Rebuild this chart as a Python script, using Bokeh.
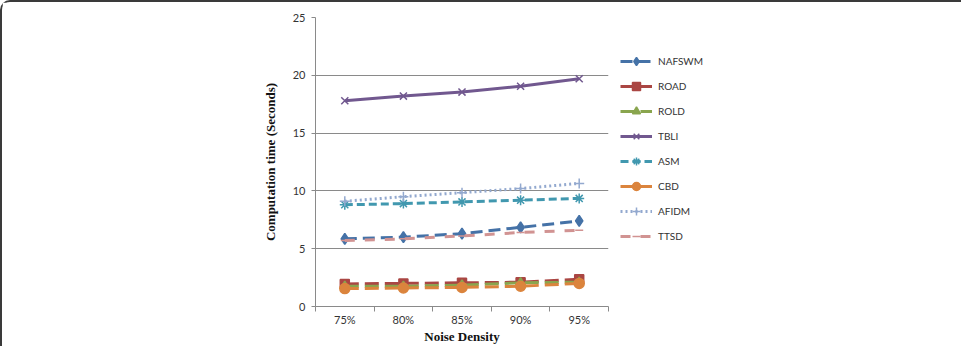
from bokeh.plotting import figure
from bokeh.models import Legend, LegendItem, FixedTicker, Range1d
from bokeh.embed import file_html
from bokeh.resources import INLINE

categories = ["75%", "80%", "85%", "90%", "95%"]
x_pos = [1, 2, 3, 4, 5]

nafswm = [5.85, 6.0, 6.3, 6.85, 7.4]
road = [1.95, 2.0, 2.05, 2.1, 2.35]
rold = [1.75, 1.75, 1.85, 2.05, 2.1]
tbli = [17.8, 18.2, 18.55, 19.05, 19.7]
asm = [8.8, 8.9, 9.05, 9.2, 9.35]
cbd = [1.55, 1.6, 1.65, 1.75, 2.0]
afidm = [9.1, 9.5, 9.85, 10.2, 10.65]
ttsd = [5.7, 5.85, 6.1, 6.4, 6.6]

y_ticks = [0, 5, 10, 15, 20, 25]

series = [
    ("NAFSWM", nafswm, "#4572A7", "12 6", "diamond", 11),
    ("ROAD", road, "#AA4643", "14 6", "square", 9),
    ("ROLD", rold, "#89A54E", "14 6", "triangle", 9),
    ("TBLI", tbli, "#71588F", "solid", "x", 10),
    ("ASM", asm, "#4198AF", "8 4", "asterisk", 10),
    ("CBD", cbd, "#DB843D", "14 6", "circle", 10),
    ("AFIDM", afidm, "#93A9CF", "2 3", "cross", 10),
    ("TTSD", ttsd, "#D19392", "10 10", "dash", 8),
]

p = figure(frame_width=293, frame_height=289, output_backend="svg", toolbar_location=None,
           x_range=Range1d(0.5, 5.5), y_range=Range1d(0, 25),
           min_border_left=313, min_border_right=155, min_border_top=15, min_border_bottom=36)
p.styles = {"border-top": "2px solid #3a3a3a", "border-left": "2px solid #3a3a3a",
            "border-right": "2px solid #3a3a3a", "border-top-left-radius": "10px",
            "border-top-right-radius": "10px"}
p.outline_line_color = None
p.background_fill_color = "white"
p.border_fill_color = "white"

p.xgrid.grid_line_color = None
p.ygrid.grid_line_color = "#8a8a8a"
p.ygrid.grid_line_width = 1
p.yaxis.ticker = FixedTicker(ticks=y_ticks)

p.xaxis.ticker = FixedTicker(ticks=x_pos, minor_ticks=[0.5, 1.5, 2.5, 3.5, 4.5, 5.5])
p.xaxis.major_label_overrides = {x: c for x, c in zip(x_pos, categories)}
p.xaxis.major_tick_line_color = None
p.xaxis.minor_tick_line_color = "#8a8a8a"
p.xaxis.minor_tick_out = 5
p.xaxis.minor_tick_in = 0
p.xaxis.axis_line_color = "#8a8a8a"
p.xaxis.major_label_standoff = 0
p.xaxis.axis_label = "Noise Density"
p.xaxis.axis_label_standoff = 0

p.yaxis.axis_line_color = "#8a8a8a"
p.yaxis.major_tick_line_color = "#8a8a8a"
p.yaxis.major_tick_out = 4
p.yaxis.major_tick_in = 0
p.yaxis.minor_tick_line_color = None
p.yaxis.major_label_standoff = 6
p.yaxis.axis_label = "Computation time (Seconds)"
p.yaxis.axis_label_standoff = 12

for ax in (p.xaxis, p.yaxis):
    ax.major_label_text_font = "Lato"
    ax.major_label_text_font_size = "11px"
    ax.major_label_text_color = "#333333"
    ax.axis_label_text_font = "Liberation Serif"
    ax.axis_label_text_font_style = "bold"
    ax.axis_label_text_font_size = "13px"
    ax.axis_label_text_color = "#111111"

items = []
for name, vals, color, dash, marker, size in series:
    r1 = p.line(x_pos, vals, line_color=color, line_width=3, line_dash=dash)
    r2 = p.scatter(x_pos, vals, marker=marker, size=size, fill_color=color,
                   line_color=color, line_width=1.5)
    items.append(LegendItem(label=name, renderers=[r1, r2]))

legend = Legend(items=items, location=(12, 60), padding=0, margin=0, spacing=5,
                label_height=20, glyph_height=20, glyph_width=32,
                label_text_font="Lato", label_text_font_size="10px",
                label_text_color="#333333", background_fill_alpha=0,
                border_line_color=None, label_standoff=6)
p.add_layout(legend, "right")

open("out.html", "w").write(file_html(p, INLINE))
